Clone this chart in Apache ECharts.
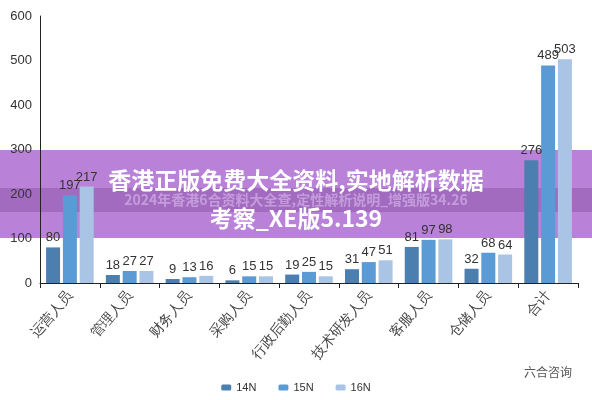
<!DOCTYPE html>
<html><head><meta charset="utf-8">
<script src="https://cdn.jsdelivr.net/npm/echarts@6/dist/echarts.min.js"></script>
<style>html,body{margin:0;padding:0;background:#fff}#c{width:592px;height:400px}</style>
</head><body><div id="c"></div>
<script>
var categories = ['运营人员', '管理人员', '财务人员', '采购人员', '行政后勤人员', '技术研发人员', '客服人员', '仓储人员', '合计'];
var s14 = [80, 18, 9, 6, 19, 31, 81, 32, 276];
var s15 = [197, 27, 13, 15, 25, 47, 97, 68, 489];
var s16 = [217, 27, 16, 15, 15, 51, 98, 64, 503];
var names = ['14N', '15N', '16N'];
var colors = ['#4a7fb0', '#5b9bd5', '#a9c4e4'];

var chart = echarts.init(document.getElementById('c'));
function mk(i, d) {
    return {
        name: names[i], type: 'bar', data: d, barWidth: 14, barGap: '20%',
        itemStyle: {color: colors[i]},
        label: {show: true, position: 'top', color: '#333', fontSize: 13, distance: 3}
    };
}
chart.setOption({
    grid: {left: 40, right: 14, top: 16, bottom: 117},
    legend: {bottom: 2, left: 'center', itemWidth: 10, itemHeight: 6, itemGap: 22,
        textStyle: {fontSize: 11, color: '#333'}},
    xAxis: {type: 'category', data: categories,
        axisLine: {lineStyle: {color: '#222'}}, axisTick: {show: true, alignWithLabel: false},
        axisLabel: {rotate: 50, fontSize: 14, color: '#444', interval: 0, margin: 10}},
    yAxis: {type: 'value', min: 0, max: 600, interval: 100,
        axisLine: {show: true, lineStyle: {color: '#222'}}, splitLine: {show: false},
        axisLabel: {fontSize: 13, color: '#333'}},
    series: [mk(0, s14), mk(1, s15), mk(2, s16)],
    graphic: [
        {type: 'rect', shape: {x: 0, y: 150, width: 592, height: 88}, style: {fill: 'rgba(155,75,200,0.7)'}},
        {type: 'rect', shape: {x: 0, y: 188, width: 592, height: 24}, style: {fill: 'rgba(110,55,140,0.3)'}},
        {type: 'text', left: 'center', top: 193, style: {text: '2024年香港6合资料大全查,定性解析说明_增强版34.26', fill: 'rgba(220,190,240,0.6)', font: 'bold 14px "Noto Sans CJK SC"'}},
        {type: 'text', left: 'center', top: 169, style: {text: '香港正版免费大全资料,实地解析数据', fill: '#fff', font: 'bold 23px "Noto Sans CJK SC"'}},
        {type: 'text', left: 'center', top: 207, style: {text: '考察_XE版5.139', fill: '#fff', font: 'bold 23px "Noto Sans CJK SC"'}},
        {type: 'text', right: 20, top: 366, style: {text: '六合咨询', fill: '#555', font: '12px "Noto Sans CJK SC"'}}
    ]
});
</script></body></html>
